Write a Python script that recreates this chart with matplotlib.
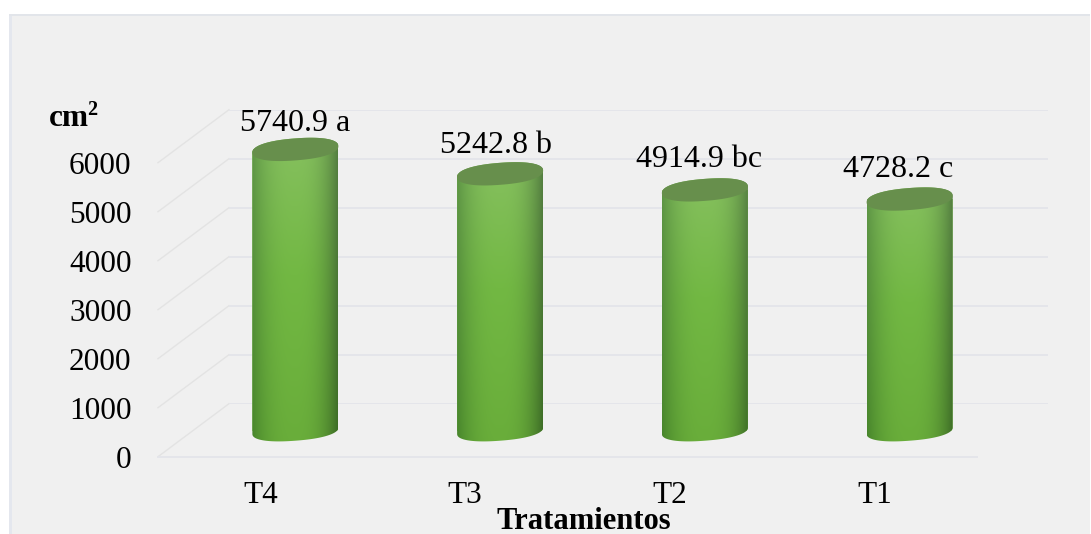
import numpy as np
import matplotlib
matplotlib.use("Agg")
import matplotlib.pyplot as plt
from matplotlib.patches import Rectangle, Polygon
from matplotlib.lines import Line2D
from matplotlib.transforms import IdentityTransform

categories = ["T4", "T3", "T2", "T1"]
values = [5740.9, 5242.8, 4914.9, 4728.2]
letters = ["a", "b", "bc", "c"]
y_ticks = [0, 1000, 2000, 3000, 4000, 5000, 6000]
label_dx = [0, -4, -6, -12]
label_dy = [18, 21, 23, 22]

W, H = 1091, 534
plt.rcParams["font.family"] = ["Liberation Serif", "DejaVu Serif"]
fig = plt.figure(figsize=(W / 100, H / 100), dpi=100, facecolor="white")

fig.add_artist(Rectangle((9 / W, 0), (W - 10) / W, (H - 14) / H, transform=fig.transFigure,
                         facecolor="#f0f0f0", edgecolor="none", zorder=-5))
fig.add_artist(Rectangle((9 / W, 0), 3 / W, (H - 14) / H, transform=fig.transFigure,
                         facecolor="#e4e7ee", edgecolor="none", zorder=-4))
fig.add_artist(Rectangle((9 / W, (H - 16) / H), (W - 10) / W, 2 / H, transform=fig.transFigure,
                         facecolor="#e2e5ea", edgecolor="none", zorder=-4))

L, R, B, T = 158, 977, 456.7, 162.7
DEPTH_X, DEPTH_Y = 71, 53
GRID = "#e4e5ea"


def make_axes(dx, dy, z):
    ax = fig.add_axes([(L + dx) / W, (H - B + dy) / H, (R - L) / W, (B - T) / H], zorder=z)
    ax.set_xlim(-0.5, 3.5)
    ax.set_ylim(0, 6000)
    ax.autoscale(False)
    ax.patch.set_visible(False)
    for s in ax.spines.values():
        s.set_visible(False)
    ax.tick_params(length=0)
    return ax


# back wall
back = make_axes(DEPTH_X, DEPTH_Y, 1)
back.set_xticks([])
back.set_yticks(y_ticks)
back.set_yticklabels([])
back.grid(axis="y", color=GRID, lw=1.4)
back.set_axisbelow(True)

# front axis with tick labels
front = make_axes(0, 0, 2)
front.set_xticks(range(len(categories)))
front.set_xticklabels(categories, fontsize=22.5, color="black")
front.set_yticks(y_ticks)
front.set_yticklabels([str(v) for v in y_ticks], fontsize=22.5, color="black")
front.tick_params(axis="y", pad=19)
front.tick_params(axis="x", pad=17.5)
front.axhline(0, color=GRID, lw=1.4, clip_on=False)

# receding side-wall lines
for v in y_ticks:
    x0, y0 = front.transData.transform((-0.5, v))
    line = Line2D([x0, x0 + DEPTH_X], [y0, y0 + DEPTH_Y], color="#e3e3e3", lw=1.0,
                  transform=IdentityTransform(), zorder=0)
    fig.add_artist(line)

# cylinders
bars_ax = make_axes(35, 26, 3)
bars_ax.set_xticks([])
bars_ax.set_yticks([])
BAR_W = 86 / 204.75
A, BB_TOP, BB_BOT, SHEAR = 43, 11.0, 10.0, 3.2
POW = 0.88


def ellipse_pts(cx, cy, a, b, t):
    c, s = np.cos(t), np.sin(t)
    ex = a * np.sign(c) * np.abs(c) ** POW
    ey = b * np.sign(s) * np.abs(s) ** POW
    return np.column_stack([cx + ex, cy + ey + SHEAR * ex / a])


def lerp(c0, c1, f):
    return c0[None, None, :] * (1 - f[..., None]) + c1[None, None, :] * f[..., None]


def hexc(s):
    return np.array(matplotlib.colors.to_rgb(s))


def gradient(n=300):
    v = np.linspace(0, 1, n)[:, None] * np.ones((n, n))     # 0 top, 1 bottom
    u = np.ones((n, 1)) * np.linspace(-1, 1, n)[None, :]
    top_mid = hexc("#86c05f")
    mid_mid = hexc("#72b843")
    bot_mid = hexc("#69ad3a")
    left_top, left_bot = hexc("#5f9647"), hexc("#47852b")
    right_top, right_bot = hexc("#557f42"), hexc("#3c6c25")
    vt = np.clip(v / 0.45, 0, 1)
    vb = np.clip((v - 0.45) / 0.55, 0, 1)
    center = lerp(top_mid, mid_mid, vt)
    center = center * (1 - vb[..., None]) + bot_mid[None, None, :] * vb[..., None]
    left = lerp(left_top, left_bot, v)
    right = lerp(right_top, right_bot, v)
    edge = np.where((u < 0)[..., None], left, right)
    f = np.abs(u) ** 2.6
    return np.clip(center * (1 - f[..., None]) + edge * f[..., None], 0, 1)


grad = gradient()
rects = bars_ax.bar(range(len(categories)), values, width=BAR_W, color="#72b843", zorder=2)

for i, (rect, val) in enumerate(zip(rects, values)):
    xc = rect.get_x() + rect.get_width() / 2
    cx, ty = bars_ax.transData.transform((xc, val))
    _, by = bars_ax.transData.transform((xc, 0))
    lower = ellipse_pts(cx, by, A, BB_BOT, np.linspace(np.pi, 2 * np.pi, 80))
    upper = ellipse_pts(cx, ty, A, BB_TOP, np.linspace(0, np.pi, 80))
    body = Polygon(np.vstack([lower, upper]), closed=True, transform=IdentityTransform(),
                   facecolor="none", edgecolor="none")
    rect.set_clip_path(body)
    rect.set_clip_box(fig.bbox)
    im = bars_ax.imshow(grad, extent=(rect.get_x(), rect.get_x() + rect.get_width(),
                                      -250, val + 250),
                        aspect="auto", zorder=3, interpolation="bilinear")
    im.set_clip_box(fig.bbox)
    im.set_clip_path(body)
    cap = Polygon(ellipse_pts(cx, ty, A, BB_TOP, np.linspace(0, 2 * np.pi, 160)), closed=True,
                  transform=IdentityTransform(), facecolor="#678f4c", edgecolor="none", zorder=4)
    bars_ax.add_artist(cap)
    bars_ax.annotate(f"{val:.1f} {letters[i]}", xy=(xc, val),
                     xytext=(label_dx[i] * 0.72, label_dy[i] * 0.72), textcoords="offset points",
                     ha="center", va="baseline", fontsize=23, color="black",
                     annotation_clip=False, zorder=6)

fig.text(49 / W, 1 - 126 / H, "cm", fontsize=22.5, fontweight="bold", ha="left", va="baseline")
fig.text(87 / W, 1 - 115 / H, "2", fontsize=14.5, fontweight="bold", ha="left", va="baseline")
fig.text(583.5 / W, 1 - 529 / H, "Tratamientos", fontsize=22, fontweight="bold",
         ha="center", va="baseline")

fig.savefig("out.png", dpi=100, facecolor="white")
